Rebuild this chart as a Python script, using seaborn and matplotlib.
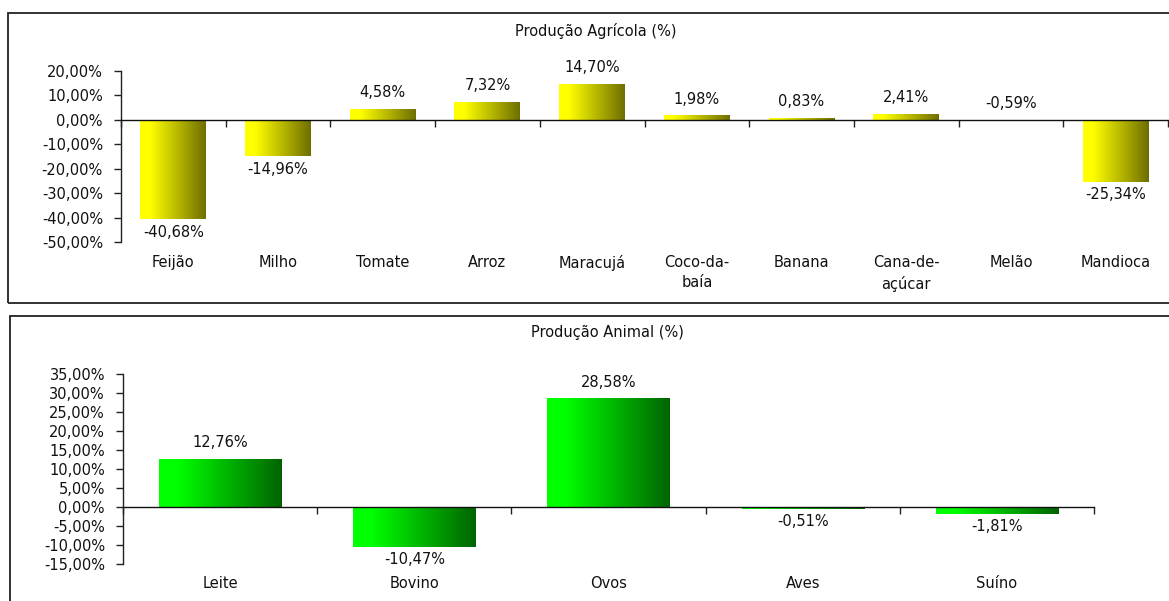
import numpy as np
import pandas as pd
import matplotlib
matplotlib.use("Agg")
import matplotlib.pyplot as plt
from matplotlib.patches import Rectangle
from matplotlib.colors import LinearSegmentedColormap
import seaborn as sns

# Variação da produção (%)
agri_labels = ["Feijão", "Milho", "Tomate", "Arroz", "Maracujá", "Coco-da-\nbaía",
               "Banana", "Cana-de-\naçúcar", "Melão", "Mandioca"]
agri_values = [-40.68, -14.96, 4.58, 7.32, 14.70, 1.98, 0.83, 2.41, -0.59, -25.34]

anim_labels = ["Leite", "Bovino", "Ovos", "Aves", "Suíno"]
anim_values = [12.76, -10.47, 28.58, -0.51, -1.81]

agri_ticks = [20, 10, 0, -10, -20, -30, -40, -50]
anim_ticks = [35, 30, 25, 20, 15, 10, 5, 0, -5, -10, -15]

sns.set_theme(style="white")
plt.rcParams["font.family"] = ["DejaVu Sans"]
FS = 10.5
TXT = "#111111"

W, H = 1169, 601
fig = plt.figure(figsize=(W / 100, H / 100), dpi=100)


def fx(px):
    return px / W


def fy(py):
    return 1 - py / H


# panel frames
fig.patches.append(Rectangle((fx(8), fy(303)), 1.2, fy(13) - fy(303),
                             transform=fig.transFigure, fill=False,
                             edgecolor="#222222", linewidth=1.3))
fig.patches.append(Rectangle((fx(10), fy(640)), 1.2, fy(316) - fy(640),
                             transform=fig.transFigure, fill=False,
                             edgecolor="#222222", linewidth=1.3))

yellow = LinearSegmentedColormap.from_list(
    "yel", [(0, "#ffff00"), (0.15, "#ffff00"), (1, "#6e6e00")])
green = LinearSegmentedColormap.from_list(
    "grn", [(0, "#00ff00"), (0.15, "#00ff00"), (1, "#006400")])


def fmt(v):
    return f"{v:.2f}".replace(".", ",") + "%"


def panel(rect, labels, values, ticks, cmap, title, title_x, title_y,
          label_gap_px, above_override=()):
    ax = fig.add_axes(rect)
    df = pd.DataFrame({"cat": labels, "val": values})
    sns.barplot(data=df, x="cat", y="val", ax=ax, width=0.63, color="#ffff00",
                edgecolor="none", saturation=1)
    n = len(labels)
    grad = np.linspace(0, 1, 256).reshape(1, -1)
    for i, p in enumerate(ax.patches):
        x0, w = p.get_x(), p.get_width()
        y0, h = p.get_y(), p.get_height()
        p.set_facecolor("none")
        top = max(y0, y0 + h)
        bot = min(y0, y0 + h)
        im = ax.imshow(grad, cmap=cmap, aspect="auto",
                       extent=(x0, x0 + w, bot, top), zorder=2)
        im.set_clip_path(p)
        v = values[i]
        if v >= 0 or labels[i] in above_override:
            ax.annotate(fmt(v), (x0 + w / 2, top), xytext=(0, 16),
                        textcoords="offset pixels", ha="center", va="center",
                        fontsize=FS, color=TXT)
        else:
            ax.annotate(fmt(v), (x0 + w / 2, bot), xytext=(0, -13),
                        textcoords="offset pixels", ha="center", va="center",
                        fontsize=FS, color=TXT)
    ax.set_aspect("auto")
    ax.set_xlim(-0.5, n - 0.5)
    ax.set_ylim(min(ticks), max(ticks))

    # axes lines
    for s in ["top", "right"]:
        ax.spines[s].set_visible(False)
    ax.spines["left"].set_color("#222222")
    ax.spines["left"].set_linewidth(1.0)
    ax.spines["bottom"].set_position(("data", 0))
    ax.spines["bottom"].set_color("#111111")
    ax.spines["bottom"].set_linewidth(1.0)
    ax.spines["bottom"].set_zorder(3)

    ax.set_yticks(ticks)
    ax.set_yticklabels([fmt(t) for t in ticks], fontsize=FS, color=TXT)
    ax.tick_params(axis="y", direction="out", length=5, width=1,
                   color="#222222", pad=8, left=True)
    ax.set_xticks(np.arange(n + 1) - 0.5)
    ax.set_xticklabels([])
    ax.tick_params(axis="x", direction="out", length=5, width=1,
                   color="#222222", bottom=True)
    ax.set_xlabel("")
    ax.set_ylabel("")
    ax.grid(False)

    for i, lab in enumerate(labels):
        ax.annotate(lab, (i, 0), xycoords=ax.get_xaxis_transform(),
                    xytext=(0, -label_gap_px), textcoords="offset pixels",
                    ha="center", va="top", fontsize=FS, color=TXT,
                    linespacing=1.45)
    fig.text(fx(title_x), fy(title_y), title,
             ha="center", va="center", fontsize=FS, color=TXT)
    return ax


panel([fx(121), fy(242), fx(1168) - fx(121), fy(71) - fy(242)],
      agri_labels, agri_values, agri_ticks, yellow,
      "Produção Agrícola (%)", 596, 31, 13, above_override=("Melão",))
panel([fx(123), fy(564), fx(1094) - fx(123), fy(374) - fy(564)],
      anim_labels, anim_values, anim_ticks, green,
      "Produção Animal (%)", 607, 333, 12)

fig.savefig("out.png", dpi=100)
